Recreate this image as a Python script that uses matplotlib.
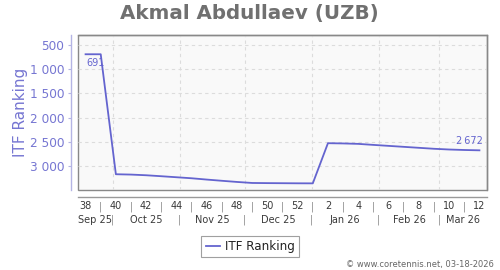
import matplotlib
matplotlib.use("Agg")
import matplotlib.pyplot as plt
import matplotlib.transforms as mtransforms
from datetime import date

# ---- data ----
weeks = [38, 39, 40, 41, 42, 43, 44, 45, 46, 47, 48, 49, 50, 51, 52,
         1, 2, 3, 4, 5, 6, 7, 8, 9, 10, 11, 12]
week_years = [2025] * 15 + [2026] * 12
ranks = [691, 691, 3165, 3172, 3186, 3206, 3227, 3248, 3275, 3300, 3324, 3345,
         3348, 3350, 3352, 3353, 2525, 2530, 2539, 2560, 2580, 2600, 2620,
         2640, 2655, 2665, 2672]
month_labels = ["Sep 25", "Oct 25", "Nov 25", "Dec 25", "Jan 26", "Feb 26", "Mar 26"]
month_starts = [date(2025, 10, 1), date(2025, 11, 1), date(2025, 12, 1),
                date(2026, 1, 1), date(2026, 2, 1), date(2026, 3, 1)]
y_ticks = [500, 1000, 1500, 2000, 2500, 3000]
title = "Akmal Abdullaev (UZB)"
series_name = "ITF Ranking"
credit = "\u00a9 www.coretennis.net, 03-18-2026"

# ---- geometry helpers ----
start = date.fromisocalendar(week_years[0], weeks[0], 1)
end = date.fromisocalendar(week_years[-1], weeks[-1], 1)
x_end = (end - start).days + 7
xs = [(date.fromisocalendar(y, w, 1) - start).days + 3.5 for y, w in zip(week_years, weeks)]
bounds = [0] + [(d - start).days for d in month_starts] + [x_end]

line_color = "#6464cf"
label_color = "#7676d2"

fig = plt.figure(figsize=(5, 2.7), dpi=100)
ax = fig.add_axes([78 / 500, 1 - 190 / 270, 409 / 500, 155 / 270])
ax.set_facecolor("#f9f9f9")
ax.patch.set_edgecolor("#888888")
ax.patch.set_linewidth(1.0)

ax.plot(xs, ranks, color=line_color, lw=1.3, label=series_name, zorder=3)

ax.set_xlim(0, x_end)
ax.set_ylim(3490, 294)

# grid
for v in y_ticks:
    ax.axhline(v, color="#dcdcdc", lw=0.8, ls=(0, (3, 3)), zorder=1)
for b in bounds[1:-1]:
    ax.axvline(b, color="#dcdcdc", lw=0.8, ls=(0, (3, 3)), zorder=1)

# spines
for s in ["top", "right"]:
    ax.spines[s].set_color("#888888")
    ax.spines[s].set_linewidth(1.0)
ax.spines["left"].set_position(("outward", 5))
ax.spines["left"].set_color("#b4b4e4")
ax.spines["left"].set_linewidth(1.0)
ax.spines["bottom"].set_position(("outward", 5))
ax.spines["bottom"].set_color("#999999")
ax.spines["bottom"].set_linewidth(1.0)

# y ticks
ax.set_yticks(y_ticks)
ax.set_yticklabels([f"{v:,}".replace(",", " ") for v in y_ticks])
ax.tick_params(axis="y", length=2, width=0.8, color="#b4b4e4", pad=3,
               labelsize=8.7, labelcolor=label_color)

# x ticks
ax.set_xticks(xs)
ax.set_xticklabels([str(w) if w % 2 == 0 else "|" for w in weeks])
ax.tick_params(axis="x", which="major", length=0, pad=3, labelsize=7,
               labelcolor="#3a3a3a")
for lbl, w in zip(ax.get_xticklabels(), weeks):
    if w % 2 == 1:
        lbl.set_color("#888888")
ax.set_xticks([x for x, w in zip(xs, weeks) if w % 2 == 1], minor=True)
ax.tick_params(axis="x", which="minor", length=2, width=0.8, color="#999999")

# month row
trans = mtransforms.blended_transform_factory(ax.transData, ax.transAxes)
for i, m in enumerate(month_labels):
    c = (bounds[i] + bounds[i + 1]) / 2
    ax.text(c, -0.194, m, transform=trans, ha="center", va="center",
            fontsize=7, color="#3a3a3a", clip_on=False)
for b in bounds[1:-1]:
    ax.text(b, -0.194, "|", transform=trans, ha="center", va="center",
            fontsize=7, color="#888888", clip_on=False)

# data labels
best_i = ranks.index(min(ranks))
ax.annotate(f"{ranks[best_i]:,}".replace(",", "\u2009"), (xs[best_i], ranks[best_i]),
            xytext=(1, -4), textcoords="offset pixels", ha="left", va="top",
            fontsize=7, color=line_color)
ax.annotate(f"{ranks[-1]:,}".replace(",", "\u2009"), (xs[-1], ranks[-1]),
            xytext=(3, 4), textcoords="offset pixels", ha="right", va="bottom",
            fontsize=7, color=line_color)

# texts
fig.text(0.498, 1 - 13 / 270, title, ha="center", va="center", fontsize=14.3,
         fontweight="bold", color="#707070")
fig.text(21 / 500, 1 - 112.5 / 270, series_name, rotation=90, ha="center",
         va="center", fontsize=11, color=label_color)
fig.text(494 / 500, 1 - 264 / 270, credit, ha="right", va="center",
         fontsize=6, color="#666666")

leg = fig.legend(loc="center", bbox_to_anchor=(250 / 500, 1 - 246.5 / 270),
                 fontsize=8.6, frameon=True, fancybox=False, handlelength=1.2,
                 handletextpad=0.4, borderpad=0.35, borderaxespad=0)
leg.get_frame().set_edgecolor("#888888")
leg.get_frame().set_linewidth(0.8)
for t in leg.get_texts():
    t.set_color("#222222")

fig.savefig("out.png", dpi=100)
